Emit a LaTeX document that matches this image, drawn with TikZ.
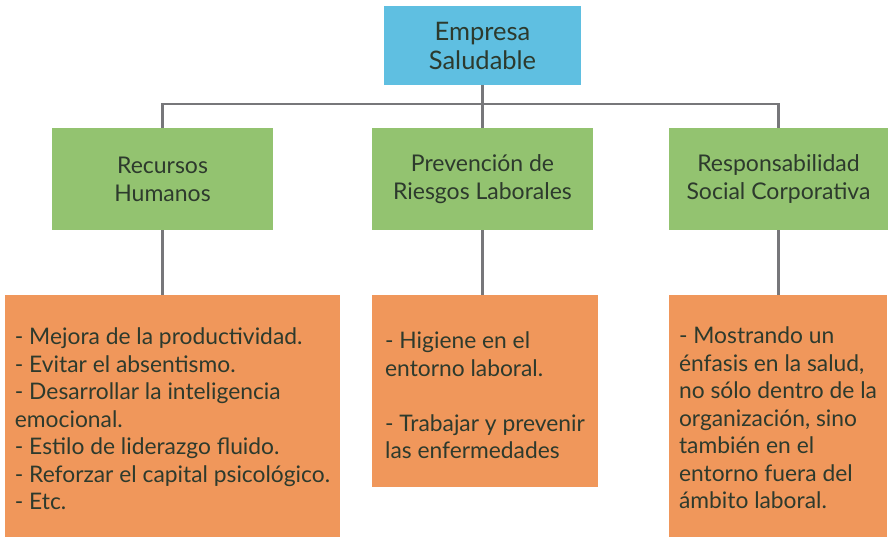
\documentclass[tikz,border=0pt]{standalone}
\usepackage{fontspec}
\setmainfont{Lato}
\definecolor{empblue}{HTML}{5FBFE1}
\definecolor{areagreen}{HTML}{93C370}
\definecolor{listorange}{HTML}{F0975B}
\definecolor{linkgray}{HTML}{77777A}
\definecolor{inkdark}{HTML}{2D3A2D}
\begin{document}
\begin{tikzpicture}[x=1pt,y=-1pt,
  topbox/.style={fill=empblue, text=inkdark, align=center, minimum width=197pt, minimum height=79pt, font={\fontsize{25.5}{29}\selectfont}},
  areabox/.style={fill=areagreen, text=inkdark, align=center, minimum width=221pt, minimum height=102pt, font={\fontsize{23}{28}\selectfont}},
  listbox/.style={fill=listorange, text=inkdark, align=left, font={\fontsize{22.8}{27.5}\selectfont}},
  link/.style={draw=linkgray, line width=2.5pt}]
\useasboundingbox (0,0) rectangle (888,537);

\node [topbox] (emp) at (482.5,45.5) {Empresa\\Saludable};
\node [areabox] (rh) at (162.5,179) {Recursos\\Humanos};
\node [areabox] (prl) at (482.5,179) {Prevención de\\Riesgos Laborales};
\node [areabox, minimum width=219pt] (rsc) at (778.5,179) {Responsabilidad\\Social Corporativa};

\node [listbox, minimum width=335pt, minimum height=248pt] (rhl) at (172.5,419) {- Mejora de la productividad.\\- Evitar el absentismo.\\- Desarrollar la inteligencia\\emocional.\\- Estilo de liderazgo fluido.\\- Reforzar el capital psicológico.\\- Etc.};
\node [listbox, minimum width=226pt, minimum height=192pt] (prll) at (485,391) {\rule{0pt}{26pt}- Higiene en el\\entorno laboral.\\[27.5pt]- Trabajar y prevenir\\las enfermedades};
\node [listbox, minimum width=218pt, minimum height=246pt] (rscl) at (778,418) {- Mostrando un\\énfasis en la salud,\\no sólo dentro de la\\organización, sino\\también en el\\entorno fuera del\\ámbito laboral.};

\coordinate (bar) at (482.5,104);
\draw [link] (emp.south) -- (prl.north);
\draw [link] (rh.north) |- (bar) -| (rsc.north);
\draw [link] (rh.south) -- (rh.south |- rhl.north);
\draw [link] (prl.south) -- (prl.south |- prll.north);
\draw [link] (rsc.south) -- (rsc.south |- rscl.north);
\end{tikzpicture}
\end{document}
